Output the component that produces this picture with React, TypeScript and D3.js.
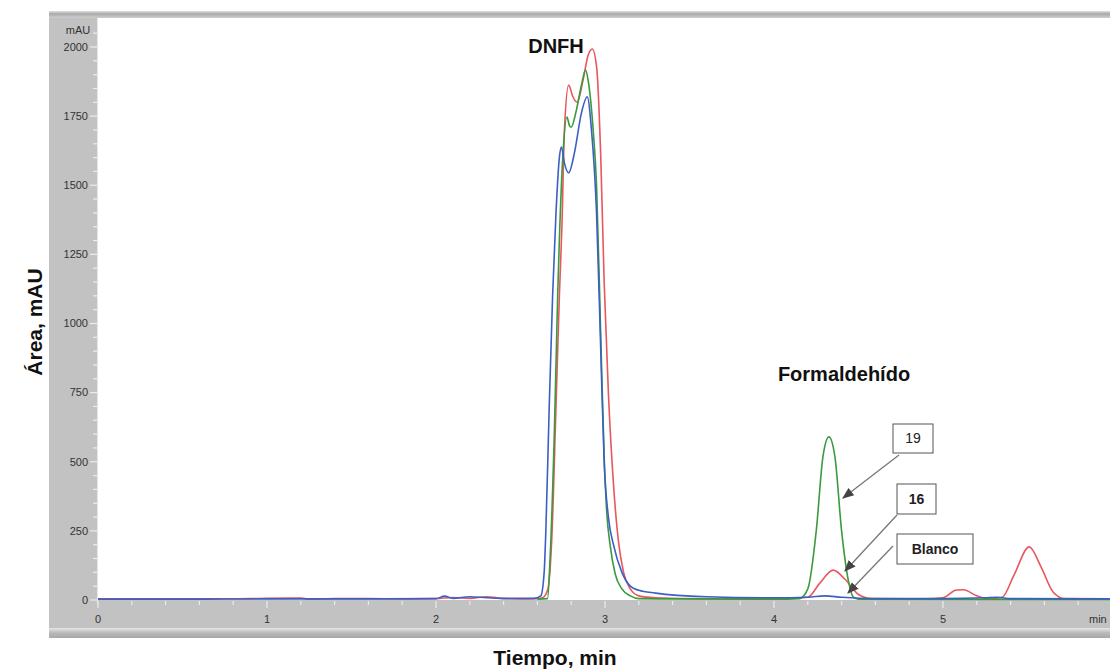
import React from "react";
import * as d3 from "d3";

// [time (min), absorbance (mAU)]
const redSeries: [number, number][] = [
  [0, 4], [0.2, 4], [0.5, 4], [0.9, 5], [1.0, 6], [1.2, 7], [1.25, 3], [1.4, 5], [1.6, 5], [1.8, 4],
  [2.0, 5], [2.1, 9], [2.2, 6], [2.3, 12], [2.4, 5], [2.5, 4], [2.6, 5], [2.63, 8], [2.66, 35],
  [2.685, 220], [2.71, 700], [2.73, 1100], [2.745, 1350], [2.76, 1700], [2.785, 1862], [2.81, 1820],
  [2.835, 1800], [2.87, 1880], [2.9, 1970], [2.925, 1993], [2.95, 1930], [2.975, 1600], [2.995, 1150],
  [3.02, 750], [3.05, 420], [3.08, 210], [3.11, 100], [3.15, 40], [3.2, 15], [3.3, 8], [3.5, 5],
  [4.0, 4], [4.2, 10], [4.27, 60], [4.35, 108], [4.42, 75], [4.5, 20], [4.58, 5], [4.9, 4], [5.0, 8],
  [5.08, 36], [5.12, 37], [5.2, 15], [5.27, 4], [5.35, 10], [5.42, 90], [5.51, 192], [5.58, 120],
  [5.65, 30], [5.72, 5], [6.0, 4],
];

const greenSeries: [number, number][] = [
  [2.6, 3], [2.66, 5], [2.675, 150], [2.7, 600], [2.72, 1100], [2.75, 1600], [2.775, 1747],
  [2.79, 1715], [2.8, 1710], [2.83, 1770], [2.86, 1860], [2.885, 1917], [2.9, 1880], [2.93, 1700],
  [2.95, 1500], [2.975, 950], [2.995, 520], [3.01, 320], [3.03, 200], [3.06, 95], [3.1, 40],
  [3.15, 15], [3.2, 5], [3.4, 4], [4.0, 3], [4.15, 5], [4.2, 40], [4.25, 250], [4.29, 520],
  [4.325, 590], [4.36, 520], [4.4, 250], [4.44, 70], [4.47, 10], [4.5, 3], [6.0, 2],
];

const blueSeries: [number, number][] = [
  [0, 3], [0.5, 3], [1.0, 4], [1.5, 4], [2.0, 5], [2.05, 14], [2.1, 6], [2.2, 12], [2.3, 8], [2.4, 6],
  [2.58, 6], [2.62, 15], [2.64, 100], [2.65, 250], [2.67, 700], [2.69, 1100], [2.71, 1400],
  [2.73, 1600], [2.742, 1638], [2.76, 1580], [2.785, 1545], [2.82, 1620], [2.86, 1760], [2.895, 1820],
  [2.92, 1700], [2.95, 1400], [2.975, 900], [2.995, 500], [3.02, 300], [3.05, 200], [3.1, 100],
  [3.15, 50], [3.2, 35], [3.3, 25], [3.6, 12], [4.0, 8], [4.2, 10], [4.3, 15], [4.4, 10], [4.6, 5],
  [5.0, 5], [5.25, 8], [5.32, 10], [5.4, 5], [6.0, 4],
];

const yMajorTicks = [0, 250, 500, 750, 1000, 1250, 1500, 1750, 2000];
const xMajorTicks = [0, 1, 2, 3, 4, 5];

const seriesList = [
  { name: "16", data: redSeries, color: "#e8575c" },
  { name: "19", data: greenSeries, color: "#3a9a3e" },
  { name: "Blanco", data: blueSeries, color: "#3c5fc4" },
];

const annotations = [
  { label: "19", bold: false, box: [893, 424, 40, 29], from: [899, 455], to: [843, 498] },
  { label: "16", bold: true, box: [897, 484, 39, 30], from: [897, 515], to: [845, 571] },
  { label: "Blanco", bold: true, box: [897, 534, 76, 30], from: [893, 546], to: [848, 593] },
];

export default function App() {
  const W = 1110, H = 671;
  const left = 98, right = 1112, top = 18, bottom = 600;
  const x = d3.scaleLinear().domain([0, 6]).range([left, right]);
  const y = d3.scaleLinear().domain([0, 2000]).range([bottom, 47]);
  const line = d3
    .line<[number, number]>()
    .x((d) => x(d[0]))
    .y((d) => y(d[1]))
    .curve(d3.curveMonotoneX);

  const yMinor = d3.range(50, 2100, 50).filter((v) => v % 250 !== 0);
  const xMinor = d3.range(0.2, 6, 0.2).filter((v) => Math.abs(v - Math.round(v)) > 0.01);
  const font = "Liberation Sans, Arial, sans-serif";

  return (
    <svg width={W} height={H} style={{ position: "absolute", left: 0, top: 0, background: "#fff" }} fontFamily={font}>
      <defs>
        <clipPath id="plotClip">
          <rect x={left} y={top} width={W - left} height={bottom - top + 2} />
        </clipPath>
        <marker id="arrow" viewBox="0 0 10 10" refX="9" refY="5" markerWidth="9" markerHeight="9" orient="auto">
          <path d="M0,1 L10,5 L0,9 z" fill="#444" />
        </marker>
        <linearGradient id="topBar" x1="0" x2="0" y1="0" y2="1">
          <stop offset="0" stopColor="#e4e4e4" />
          <stop offset="0.4" stopColor="#a9a9a9" />
          <stop offset="1" stopColor="#cfcfcf" />
        </linearGradient>
        <linearGradient id="botBar" x1="0" x2="0" y1="0" y2="1">
          <stop offset="0" stopColor="#e6e6e6" />
          <stop offset="0.5" stopColor="#b8b8b8" />
          <stop offset="1" stopColor="#a8a8a8" />
        </linearGradient>
      </defs>

      {/* frame panels */}
      <rect x={49} y={11} width={W - 49} height={7} fill="url(#topBar)" />
      <rect x={49} y={18} width={left - 49} height={bottom - 18} fill="#c2c2c2" />
      <rect x={49} y={bottom} width={W - 49} height={28} fill="#c2c2c2" />
      <rect x={49} y={628} width={W - 49} height={10} fill="url(#botBar)" />
      <line x1={left - 0.5} x2={left - 0.5} y1={18} y2={bottom + 4} stroke="#e6e6e6" strokeWidth={1} />

      {/* y ticks */}
      {yMajorTicks.map((v) => (
        <g key={"ym" + v}>
          <line x1={left - 8} x2={left - 1} y1={y(v)} y2={y(v)} stroke="#ececec" strokeWidth={1.2} />
          <text x={left - 10} y={y(v)} dy="0.35em" textAnchor="end" fontSize={11} fill="#333">
            {v}
          </text>
        </g>
      ))}
      {yMinor.map((v) => (
        <line key={"yn" + v} x1={left - 5} x2={left - 1} y1={y(v)} y2={y(v)} stroke="#ececec" strokeWidth={1.2} />
      ))}
      <text x={78} y={30} dy="0.35em" textAnchor="middle" fontSize={11} fill="#333">mAU</text>

      {/* x ticks */}
      {xMajorTicks.map((v) => (
        <g key={"xm" + v}>
          <line x1={x(v)} x2={x(v)} y1={bottom + 1} y2={bottom + 8} stroke="#ececec" strokeWidth={1.2} />
          <text x={x(v)} y={619} dy="0.35em" textAnchor="middle" fontSize={11} fill="#333">
            {v}
          </text>
        </g>
      ))}
      {xMinor.map((v) => (
        <line key={"xn" + v.toFixed(1)} x1={x(v)} x2={x(v)} y1={bottom + 1} y2={bottom + 5} stroke="#ececec" strokeWidth={1.2} />
      ))}
      <text x={1089} y={619} dy="0.35em" fontSize={11} fill="#333">min</text>

      {/* series */}
      <g clipPath="url(#plotClip)">
        {seriesList.map((s) => (
          <path key={s.name} d={line(s.data) || ""} fill="none" stroke={s.color} strokeWidth={1.6} strokeLinejoin="round" />
        ))}
      </g>

      {/* annotations */}
      <text x={556} y={46} dy="0.35em" textAnchor="middle" fontSize={20} fontWeight="bold" fill="#111">DNFH</text>
      <text x={844} y={374} dy="0.35em" textAnchor="middle" fontSize={20} fontWeight="bold" fill="#111">Formaldehído</text>
      {annotations.map((a) => (
        <g key={a.label}>
          <line x1={a.from[0]} y1={a.from[1]} x2={a.to[0]} y2={a.to[1]} stroke="#777" strokeWidth={1.3} markerEnd="url(#arrow)" />
          <rect x={a.box[0]} y={a.box[1]} width={a.box[2]} height={a.box[3]} fill="#fff" stroke="#555" strokeWidth={1} />
          <text
            x={a.box[0] + a.box[2] / 2}
            y={a.box[1] + a.box[3] / 2}
            dy="0.35em"
            textAnchor="middle"
            fontSize={14}
            fontWeight={a.bold ? "bold" : "normal"}
            fill="#222"
          >
            {a.label}
          </text>
        </g>
      ))}

      {/* axis titles */}
      <text
        transform={`translate(35,${322}) rotate(-90)`}
        textAnchor="middle"
        dy="0.35em"
        fontSize={21}
        fontWeight="bold"
        fill="#111"
      >
        Área, mAU
      </text>
      <text x={555} y={658} dy="0.35em" textAnchor="middle" fontSize={21} fontWeight="bold" fill="#111">
        Tiempo, min
      </text>
    </svg>
  );
}
